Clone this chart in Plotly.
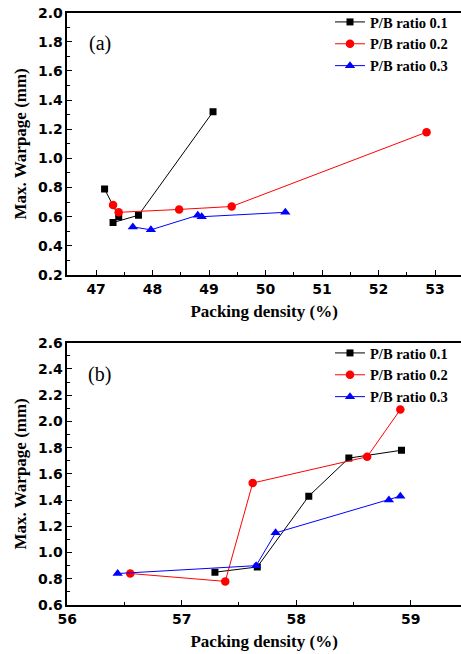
import plotly.graph_objects as go

# Panel (a)
a_names = ["P/B ratio 0.1", "P/B ratio 0.2", "P/B ratio 0.3"]
a_x1 = [47.15, 47.40, 47.30, 47.75, 49.07]
a_y1 = [0.79, 0.60, 0.56, 0.61, 1.32]
a_x2 = [47.30, 47.40, 48.47, 49.40, 52.85]
a_y2 = [0.68, 0.63, 0.65, 0.67, 1.18]
a_x3 = [47.65, 47.97, 48.80, 48.87, 50.35]
a_y3 = [0.53, 0.51, 0.61, 0.60, 0.63]

# Panel (b)
b_x1 = [57.29, 57.66, 58.11, 58.46, 58.92]
b_y1 = [0.85, 0.89, 1.43, 1.72, 1.78]
b_x2 = [56.55, 57.38, 57.62, 58.62, 58.91]
b_y2 = [0.84, 0.78, 1.53, 1.73, 2.09]
b_x3 = [56.44, 57.65, 57.82, 58.81, 58.91]
b_y3 = [0.84, 0.90, 1.15, 1.40, 1.43]

colors = ["#000000", "#ff0000", "#0000ff"]
symbols = ["square", "circle", "triangle-up"]
msizes = [7, 8.5, 9]

W, H = 461, 654
fig = go.Figure()

a_data = [(a_x1, a_y1), (a_x2, a_y2), (a_x3, a_y3)]
b_data = [(b_x1, b_y1), (b_x2, b_y2), (b_x3, b_y3)]
for i, (xs, ys) in enumerate(a_data):
    fig.add_trace(go.Scatter(x=xs, y=ys, mode="lines+markers", name=a_names[i],
                             line=dict(color=colors[i], width=1),
                             marker=dict(symbol=symbols[i], size=msizes[i], color=colors[i]),
                             xaxis="x", yaxis="y", legend="legend"))
for i, (xs, ys) in enumerate(b_data):
    fig.add_trace(go.Scatter(x=xs, y=ys, mode="lines+markers", name=a_names[i],
                             line=dict(color=colors[i], width=1),
                             marker=dict(symbol=symbols[i], size=msizes[i], color=colors[i]),
                             xaxis="x2", yaxis="y2", legend="legend2"))

tickfont = dict(family="DejaVu Sans", size=14, color="black", weight="bold")
titlefont = dict(family="Liberation Serif", size=17, color="black", weight="bold")
legfont = dict(family="Liberation Serif", size=14.5, color="black", weight="bold")

def ax(**kw):
    d = dict(showgrid=False, zeroline=False, showline=True, linecolor="black", linewidth=1.5,
             ticks="inside", ticklen=5, tickwidth=1.2, tickcolor="black", tickfont=tickfont,
             automargin=False)
    d.update(kw)
    return d

x0 = 67.3 / W
fig.update_layout(
    width=W, height=H, margin=dict(l=0, r=0, t=0, b=0, autoexpand=False),
    paper_bgcolor="white", plot_bgcolor="white",
    xaxis=ax(domain=[x0, 1.0], range=[46.49, 53.46], dtick=1, tick0=47, anchor="y", mirror=True,
             minor=dict(ticks="inside", ticklen=3, dtick=0.5, tick0=47, tickcolor="black", tickwidth=1.2),
             title=dict(text="Packing density (%)", font=titlefont, standoff=10)),
    yaxis=ax(domain=[1 - 275 / H, 1 - 12.7 / H], range=[0.2, 2.0], dtick=0.2, tick0=0.2, anchor="x",
             tickformat=".1f",
             minor=dict(ticks="inside", ticklen=3, dtick=0.1, tick0=0.2, tickcolor="black", tickwidth=1.2),
             title=dict(text="Max. Warpage (mm)", font=titlefont, standoff=7)),
    xaxis2=ax(domain=[x0, 1.0], range=[56.0, 59.44], dtick=1, tick0=56, anchor="y2", mirror=True,
              minor=dict(ticks="inside", ticklen=3, dtick=0.5, tick0=56, tickcolor="black", tickwidth=1.2),
              title=dict(text="Packing density (%)", font=titlefont, standoff=10)),
    yaxis2=ax(domain=[1 - 605 / H, 1 - 342.7 / H], range=[0.6, 2.6], dtick=0.2, tick0=0.6, anchor="x2",
              tickformat=".1f",
              minor=dict(ticks="inside", ticklen=3, dtick=0.1, tick0=0.6, tickcolor="black", tickwidth=1.2),
              title=dict(text="Max. Warpage (mm)", font=titlefont, standoff=7)),
    legend=dict(x=330 / W, y=1 - 6 / H, xanchor="left", yanchor="top", bgcolor="rgba(0,0,0,0)",
                font=legfont, tracegroupgap=0, itemwidth=30),
    legend2=dict(x=330 / W, y=1 - 337 / H, xanchor="left", yanchor="top", bgcolor="rgba(0,0,0,0)",
                 font=legfont, tracegroupgap=0, itemwidth=30),
    annotations=[
        dict(text="(a)", xref="x domain", yref="y domain", x=0.083, y=0.884, showarrow=False,
             xanchor="center", yanchor="middle",
             font=dict(family="Liberation Serif", size=20, color="black")),
        dict(text="(b)", xref="x2 domain", yref="y2 domain", x=0.083, y=0.88, showarrow=False,
             xanchor="center", yanchor="middle",
             font=dict(family="Liberation Serif", size=20, color="black")),
    ],
)

fig.write_html("out.html", config={"displayModeBar": False},
               post_script="document.body.style.margin='0';document.body.style.overflow='hidden';")
